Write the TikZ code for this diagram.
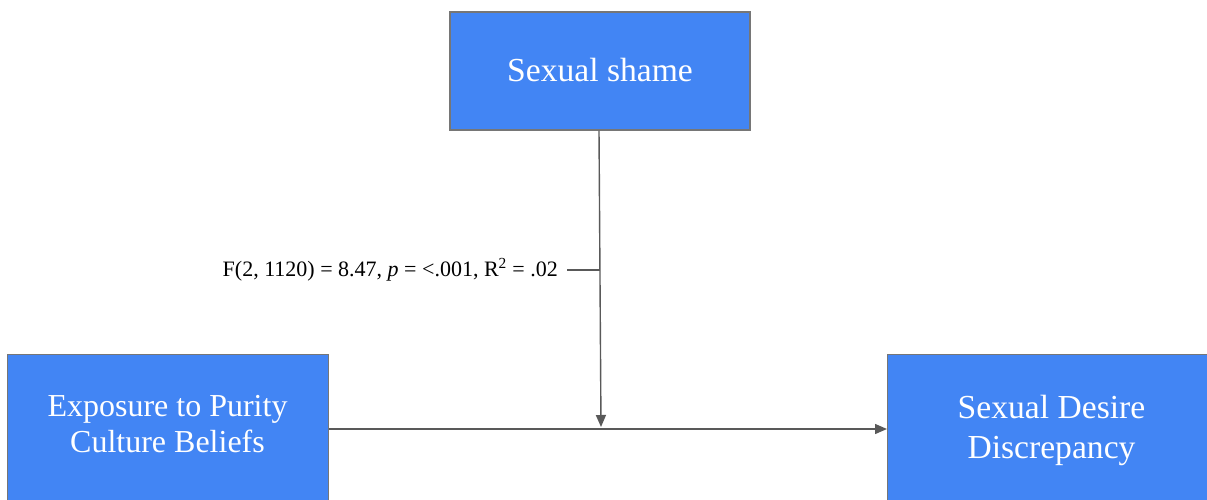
\documentclass[tikz,border=0pt]{standalone}
\usepackage{fontspec}
\setmainfont{Liberation Serif}
\usetikzlibrary{arrows.meta,calc}
\definecolor{boxblue}{HTML}{4285F4}
\definecolor{boxedge}{HTML}{767676}
\definecolor{arrgray}{HTML}{595959}
\begin{document}
\begin{tikzpicture}[x=1pt,y=-1pt,
  boxstyle/.style={draw=boxedge,line width=1.3pt,fill=boxblue,rectangle,inner sep=0pt},
  boxtext/.style={text=white,font=\fontsize{32}{36}\selectfont,align=center,inner sep=0pt},
  conn/.style={draw=arrgray,line width=1.4pt},
  arr/.style={conn,-{Triangle[length=12pt,width=10pt]}}]
\useasboundingbox (0,0) rectangle (1207,500);
\clip (0,0) rectangle (1207,500);
% boxes
\node[boxstyle,minimum width=300pt,minimum height=118pt] (shame) at (600,71) {};
\node[boxtext,font=\fontsize{33.6}{38}\selectfont] (shameT) at (600,70) {Sexual shame};
\node[boxstyle,minimum width=321pt,minimum height=160pt,anchor=north west] (purity) at (7,354) {};
\node[boxtext] (purityT) at (167.5,424) {Exposure to Purity\\Culture Beliefs};
\node[boxstyle,minimum width=330pt,minimum height=160pt,anchor=north west] (desire) at (887,354) {};
\node[boxtext,font=\fontsize{33.6}{40}\selectfont] (desireT) at (1051.5,430) {Sexual Desire\\Discrepancy};
% label
\node[anchor=east,inner sep=0pt,font=\fontsize{22}{24}\selectfont] (stat) at (558,270)
  {F(2, 1120) = 8.47, \textit{p} = <.001, R\textsuperscript{2} = .02};
% connectors
\coordinate (meet) at (601,427);
\coordinate (tap) at (600,270);
\draw[arr] (purity.east |- 0,429) -- (desire.west |- 0,429);
\draw[arr] (shame.south -| 599,0) -- (meet);
\draw[conn] ($(stat.east)+(9,0)$) -- (tap);
\end{tikzpicture}
\end{document}
